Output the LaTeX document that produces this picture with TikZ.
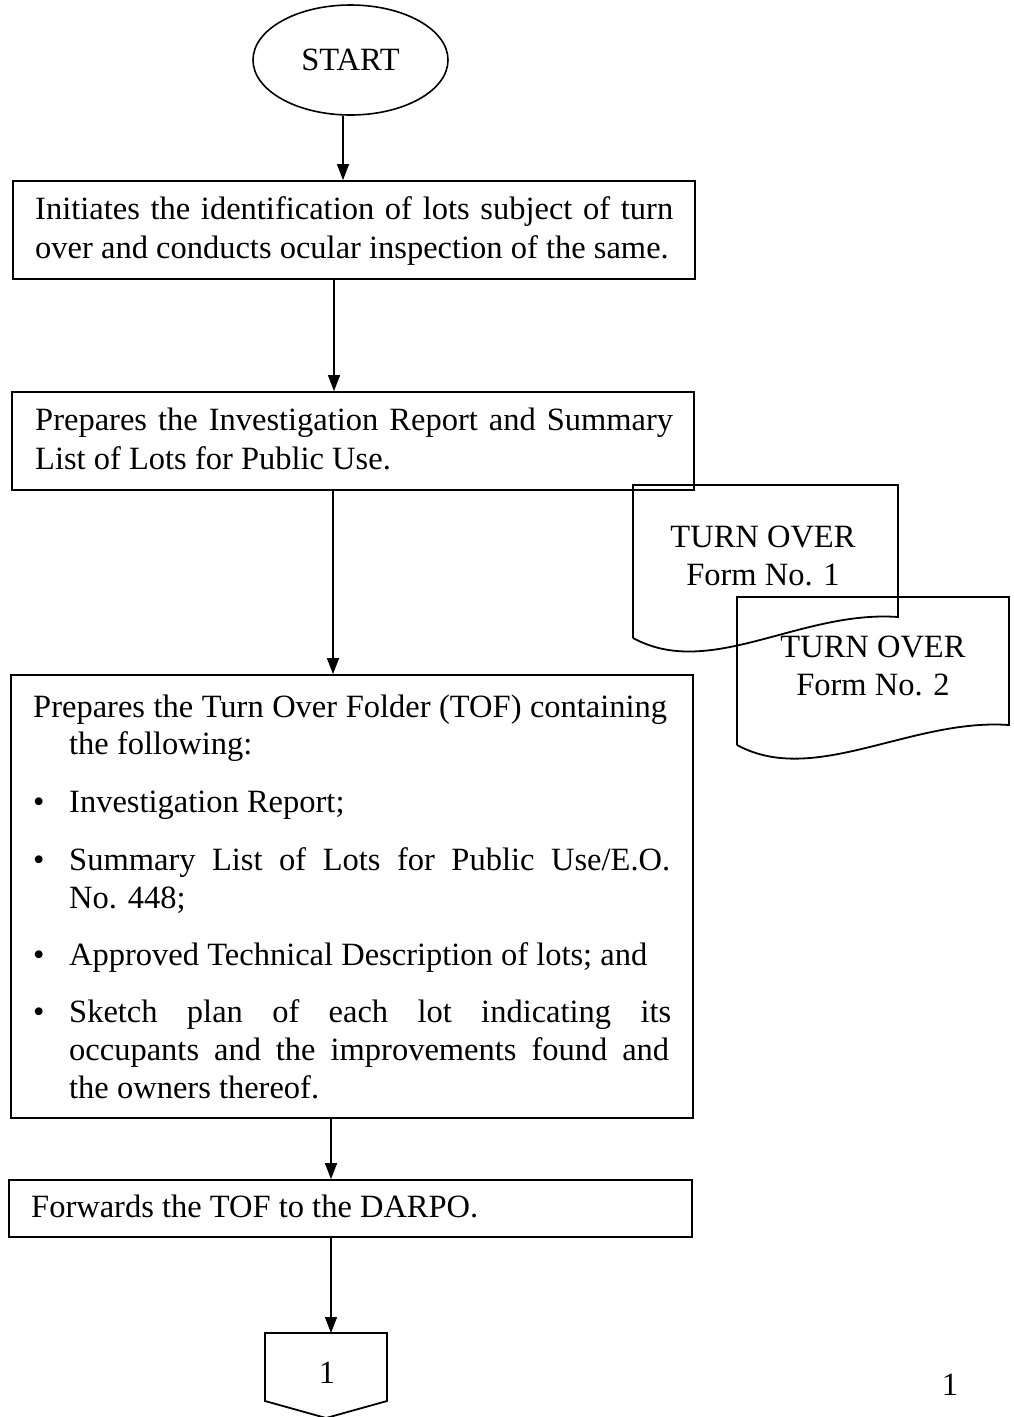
\documentclass[tikz,border=0pt]{standalone}
\usepackage{fontspec}
\setmainfont{Liberation Serif}
\usetikzlibrary{arrows.meta,shapes.geometric}
\tikzset{
  box/.style={draw, line width=1.8pt, rectangle, inner sep=0pt},
  startbox/.style={draw, line width=1.6pt, ellipse, inner sep=0pt, minimum width=195pt, minimum height=110pt, font=\fontsize{32.5}{38}\selectfont},
  txt/.style={inner sep=0pt, font=\fontsize{32.5}{38}\selectfont},
  arr/.style={line width=1.4pt, -{Triangle[length=16pt,width=12pt]}},
  shapeline/.style={line width=1.8pt, line join=miter}
}
\begin{document}
\begin{tikzpicture}[x=1pt,y=-1pt]
\fill[white] (0,0) rectangle (1014,1417);
\useasboundingbox (0,0) rectangle (1014,1417);

% START
\node[startbox] (start) at (350.5,60) {START};

% boxes
\node[box, minimum width=682pt, minimum height=98pt] (b1) at (354,230) {};
\node[box, minimum width=682pt, minimum height=98pt] (b2) at (353,441) {};
\node[box, minimum width=682pt, minimum height=443pt] (b3) at (352,896.5) {};
\node[box, minimum width=683pt, minimum height=57pt] (b4) at (350.5,1208.5) {};

% box 1 text
\node[txt, anchor=base west] (b1l1) at (35,219) {\makebox[638pt][s]{Initiates the identification of lots subject of turn}};
\node[txt, anchor=base west] (b1l2) at (35,258) {over and conducts ocular inspection of the same.};

% box 2 text
\node[txt, anchor=base west] (b2l1) at (35,430) {\makebox[638pt][s]{Prepares the Investigation Report and Summary}};
\node[txt, anchor=base west] (b2l2) at (35,469) {List of Lots for Public Use.};

% box 3 text
\node[txt, anchor=base west] (b3l1) at (33,717) {\makebox[634pt][s]{Prepares the Turn Over Folder (TOF) containing}};
\node[txt, anchor=base west] (b3l2) at (69,754) {the following:};
\node[txt, anchor=base west] (bu1) at (33,812) {•};
\node[txt, anchor=base west] (b3l3) at (69,812) {Investigation Report;};
\node[txt, anchor=base west] (bu2) at (33,870) {•};
\node[txt, anchor=base west] (b3l4) at (69,870) {\makebox[601pt][s]{Summary List of Lots for Public Use/E.O.}};
\node[txt, anchor=base west] (b3l5) at (69,908) {No. 448;};
\node[txt, anchor=base west] (bu3) at (33,965) {•};
\node[txt, anchor=base west] (b3l6) at (69,965) {Approved Technical Description of lots; and};
\node[txt, anchor=base west] (bu4) at (33,1022) {•};
\node[txt, anchor=base west] (b3l7) at (69,1022) {\makebox[602pt][s]{Sketch plan of each lot indicating its}};
\node[txt, anchor=base west] (b3l8) at (69,1060) {\makebox[600pt][s]{occupants and the improvements found and}};
\node[txt, anchor=base west] (b3l9) at (69,1098) {the owners thereof.};

% box 4 text
\node[txt, anchor=base west] (b4l1) at (31,1217) {Forwards the TOF to the DARPO.};

% document shapes
\draw[shapeline] (633,638) -- (633,485) -- (898,485) -- (898,617)
  .. controls (800,610) and (710,680) .. (633,638);
\draw[shapeline] (737,745) -- (737,597) -- (1009,597) -- (1009,725)
  .. controls (911,718) and (814,787) .. (737,745);
\node[txt, anchor=base] (d1a) at (763,547) {TURN OVER};
\node[txt, anchor=base] (d1b) at (763,585) {Form No. 1};
\node[txt, anchor=base] (d2a) at (873,657) {TURN OVER};
\node[txt, anchor=base] (d2b) at (873,695) {Form No. 2};

% off-page connector
\draw[shapeline] (265,1333) -- (387,1333) -- (387,1401) -- (326,1418) -- (265,1401) -- cycle;
\coordinate (conn) at (330,1333);
\node[txt] (connlbl) at (327,1373) {1};

% page number
\node[txt, anchor=base] (pageno) at (950,1395) {1};

% arrows
\coordinate (ax1) at (343,0);
\coordinate (ax2) at (334,0);
\coordinate (ax3) at (333,0);
\coordinate (ax4) at (331,0);
\draw[arr] (start.south -| ax1) -- (b1.north -| ax1);
\draw[arr] (b1.south -| ax2) -- (b2.north -| ax2);
\draw[arr] (b2.south -| ax3) -- (b3.north -| ax3);
\draw[arr] (b3.south -| ax4) -- (b4.north -| ax4);
\draw[arr] (b4.south -| ax4) -- (conn -| ax4);
\end{tikzpicture}
\end{document}
